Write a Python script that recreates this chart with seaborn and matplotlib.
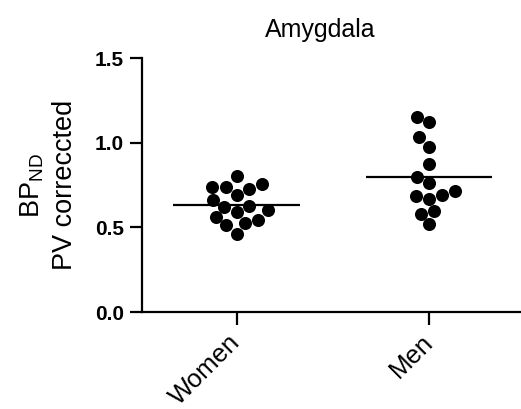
import numpy as np
import pandas as pd
import matplotlib
matplotlib.use("Agg")
import matplotlib.pyplot as plt
import seaborn as sns

groups = ["Women", "Men"]
women = [0.806, 0.692, 0.741, 0.727, 0.737, 0.757, 0.624, 0.561, 0.600,
         0.525, 0.590, 0.463, 0.620, 0.512, 0.659, 0.545]
men = [1.153, 1.120, 1.031, 0.976, 0.875, 0.800, 0.761, 0.714, 0.688,
       0.665, 0.692, 0.594, 0.580, 0.518]
yticks = [0.0, 0.5, 1.0, 1.5]
title = "Amygdala"
ylabel_line1 = r"BP$_{\mathregular{ND}}$"
ylabel_line2 = "PV correccted"

df = pd.DataFrame({
    "group": ["Women"] * len(women) + ["Men"] * len(men),
    "value": women + men,
})

sns.set_style("ticks")
plt.rcParams["font.family"] = ["Liberation Sans", "DejaVu Sans"]
plt.rcParams["mathtext.fontset"] = "custom"
plt.rcParams["mathtext.rm"] = "Liberation Sans"
plt.rcParams["text.color"] = "black"
plt.rcParams["axes.labelcolor"] = "black"
plt.rcParams["xtick.color"] = "black"
plt.rcParams["ytick.color"] = "black"
plt.rcParams["axes.edgecolor"] = "black"

fig = plt.figure(figsize=(5.21, 4.09), dpi=100)
ax = fig.add_axes([0.272, 0.237, 0.726, 0.621])

sns.swarmplot(data=df, x="group", y="value", order=groups, color="black",
              size=9.4, ax=ax, linewidth=0)

means = df.groupby("group")["value"].mean()
for i, g in enumerate(groups):
    ax.hlines(means[g], i - 0.33, i + 0.33, color="black", linewidth=1.6, zorder=3)

ax.set_ylim(0, 1.5)
ax.set_xlim(-0.494, 1.473)
ax.set_yticks(yticks)
ax.set_yticklabels([f"{t:.1f}" for t in yticks], fontweight="bold", fontsize=15)
ax.set_xticks(range(len(groups)))
ax.set_xticklabels(groups, rotation=45, ha="right", va="center",
                   rotation_mode="anchor", fontsize=18.5)
ax.set_xlabel("")
ax.set_ylabel(ylabel_line1 + "\n" + ylabel_line2, fontsize=19.5, labelpad=12, linespacing=1.3)
for s in ["top", "right"]:
    ax.spines[s].set_visible(False)
for s in ["left", "bottom"]:
    ax.spines[s].set_linewidth(1.6)
ax.tick_params(axis="both", width=1.6, length=9)
ax.tick_params(axis="y", pad=4)
ax.tick_params(axis="x", pad=10)

fig.text(320 / 521, 1 - 30 / 409, title, ha="center", va="center", fontsize=18)

fig.savefig("out.png", dpi=100)
